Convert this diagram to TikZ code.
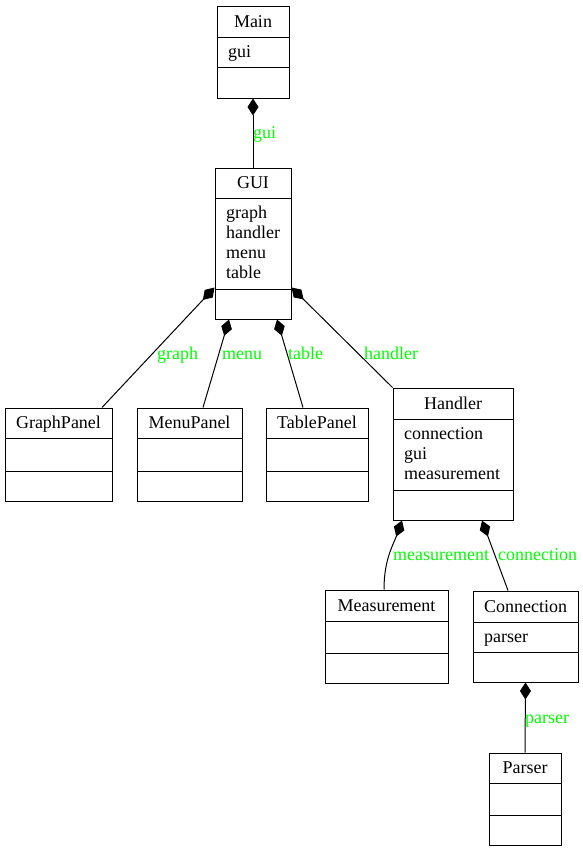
\documentclass[tikz,border=0pt]{standalone}
\usepackage{fontspec}
\setmainfont{Liberation Serif}
\usetikzlibrary{arrows.meta,fit}
\definecolor{lblgreen}{RGB}{0,255,0}
\tikzset{
  box/.style={draw, line width=1pt, inner sep=0pt},
  divider/.style={line width=1pt},
  ttl/.style={anchor=base, inner sep=0pt, font=\fontsize{18}{20}\selectfont},
  attr/.style={anchor=base west, inner sep=0pt, font=\fontsize{18}{20}\selectfont},
  lbl/.style={anchor=base west, inner sep=0pt, text=lblgreen, font=\fontsize{18}{20}\selectfont},
  comp/.style={line width=1pt, {Diamond[length=17pt,width=11pt]}-},
}
\newcommand\umlbox[9]{%
  \node[box, fit={(#2,#3)(#4,#7)}] (#1) {};
  \draw[divider] (#2,#5) -- (#4,#5);
  \draw[divider] (#2,#6) -- (#4,#6);
  \node[ttl] (#1-t) at ({(#2+#4)/2}, #5-10) {#8};
  \foreach \a [count=\i] in {#9} {\node[attr] (#1-a\i) at (#2+11, #5+20*\i) {\a};}%
}
\begin{document}
\begin{tikzpicture}[x=1pt,y=-1pt]
\useasboundingbox (0,0) rectangle (583,852);
\umlbox{Main}{217}{6}{289}{37}{67}{98}{Main}{gui}
\umlbox{GUI}{215}{168}{291}{198}{289}{319}{GUI}{graph,handler,menu,table}
\umlbox{GraphPanel}{5}{408}{112}{438}{471}{501}{GraphPanel}{}
\umlbox{MenuPanel}{137}{408}{242}{438}{471}{501}{MenuPanel}{}
\umlbox{TablePanel}{266}{408}{368}{438}{471}{501}{TablePanel}{}
\umlbox{Handler}{393}{388}{513}{419}{490}{520}{Handler}{connection,gui,measurement}
\umlbox{Measurement}{325}{590}{448}{621}{653}{683}{Measurement}{}
\umlbox{Connection}{473}{591}{578}{622}{652}{682}{Connection}{parser}
\umlbox{Parser}{489}{753}{561}{783}{815}{845}{Parser}{}

\draw[comp] (Main.south) -- (GUI.north);
\draw[comp] ([yshift=32pt]GUI.south west) -- ([xshift=43.5pt]GraphPanel.north);
\draw[comp] ([xshift=-24pt]GUI.south) -- ([xshift=13.5pt]MenuPanel.north);
\draw[comp] ([xshift=24pt]GUI.south) -- ([xshift=-14pt]TablePanel.north);
\draw[comp] ([yshift=32pt]GUI.south east) -- (Handler.north west);
\draw[comp] ([xshift=-51pt]Handler.south) .. controls +(-9,25) and +(0,-30) .. ([xshift=-2.5pt]Measurement.north);
\draw[comp] ([xshift=29pt]Handler.south) -- ([xshift=-17.5pt]Connection.north);
\draw[comp] (Connection.south) -- (Parser.north);

\node[lbl] (l-gui) at (253,138) {gui};
\node[lbl] (l-graph) at (157,359) {graph};
\node[lbl] (l-menu) at (222,359) {menu};
\node[lbl] (l-table) at (288,359) {table};
\node[lbl] (l-handler) at (364,359) {handler};
\node[lbl] (l-meas) at (393,560) {measurement};
\node[lbl] (l-conn) at (498,560) {connection};
\node[lbl] (l-parser) at (525,723) {parser};
\end{tikzpicture}
\end{document}
